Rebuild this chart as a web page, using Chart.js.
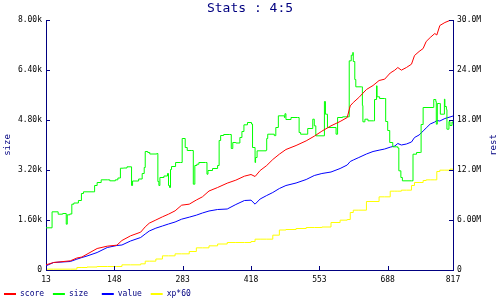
<!DOCTYPE html>
<html>
<head>
<meta charset="utf-8">
<title>Stats : 4:5</title>
<script src="https://cdn.jsdelivr.net/npm/chart.js@4.4.1/dist/chart.umd.min.js"></script>
<style>
  html, body { margin: 0; padding: 0; background: #fff; }
  #statsChart { display: block; }
</style>
</head>
<body>
<canvas id="statsChart" width="500" height="300"></canvas>
<script>
// x axis labels
const xTicks = [13, 148, 283, 418, 553, 688, 817];

// size (left axis)
const sizeX = [13, 25, 37, 46, 53, 55, 60, 64, 68, 77, 83, 87, 106, 109, 114, 122, 135, 139, 150, 155,
  160, 166, 173, 182, 184, 196, 203, 207, 209, 214, 218, 232, 234, 236, 238, 246, 253, 255, 257, 259,
  261, 269, 279, 282, 288, 292, 301, 304, 307, 311, 315, 328, 331, 333, 342, 352, 355, 358, 364, 375,
  379, 382, 388, 396, 400, 404, 411, 419, 421, 426, 427, 430, 448, 449, 451, 464, 467, 472, 484, 485,
  487, 497, 510, 513, 516, 530, 540, 543, 546, 563, 565, 569, 586, 589, 599, 612, 616, 619, 620, 623,
  625, 636, 638, 639, 643, 649, 660, 662, 666, 667, 672, 682, 684, 688, 692, 698, 708, 710, 714, 717,
  735, 738, 745, 753, 754, 758, 778, 779, 783, 784, 786, 791, 792, 799, 800, 801, 804, 805, 809, 811,
  815, 817];
const sizeValues = [1350, 1862, 1786, 1808, 1466, 1766, 1792, 2106, 2144, 2224, 2448, 2502, 2502, 2704, 2800, 2886, 2886, 2854, 2886, 2944,
  3258, 3264, 3302, 2704, 2848, 2912, 3088, 3280, 3792, 3760, 3712, 3728, 2832, 2704, 2960, 3008, 3088, 2704, 2640, 3216,
  3312, 3440, 3440, 4208, 3920, 3824, 3824, 2746, 3344, 3386, 3440, 3440, 3066, 3184, 3248, 3344, 4144, 4304, 4336, 4336,
  3888, 4080, 4064, 4240, 4432, 4646, 4720, 4672, 3920, 3440, 3600, 3814, 3834, 4208, 4346, 4300, 4560, 4934, 4880, 5000,
  4816, 4880, 4880, 4400, 4346, 4528, 4826, 4614, 4294, 5392, 4986, 4560, 4346, 4880, 4902, 6694, 6874, 6960, 6672, 6096,
  5862, 5862, 5264, 4742, 4826, 4774, 4774, 5456, 5894, 5542, 5488, 5488, 4752, 4464, 4080, 3942, 3904, 3174, 2960, 2854,
  2854, 3706, 3760, 3760, 4656, 5200, 5200, 5456, 5392, 4666, 5328, 5328, 4986, 4986, 5466, 5232, 5136, 4506, 4752, 4624,
  4736, 4688];

// score, value, xp*60 (right axis, millions)
const restX = [13, 28, 61, 74, 84, 94, 114, 134, 153, 163, 180, 200, 209, 217, 230, 243, 255, 268, 281, 296,
  310, 322, 335, 352, 371, 388, 405, 418, 426, 436, 449, 461, 474, 487, 507, 527, 543, 558, 576, 594,
  608, 614, 620, 631, 646, 659, 671, 682, 693, 702, 708, 715, 725, 735, 741, 750, 758, 764, 772, 781,
  785, 791, 801, 811, 817];
const scoreValues = [0.62, 0.90, 1.10, 1.44, 1.56, 1.90, 2.58, 2.86, 2.98, 3.54, 4.10, 4.54, 5.18, 5.62, 6.00, 6.38, 6.70, 7.10, 7.78, 7.90,
  8.40, 8.78, 9.48, 9.90, 10.42, 10.78, 11.26, 11.46, 11.22, 11.94, 12.54, 13.26, 13.90, 14.46, 14.94, 15.50, 16.06, 16.66, 17.30, 17.82,
  18.30, 19.70, 20.10, 20.70, 21.66, 22.14, 22.74, 22.90, 23.64, 23.98, 24.30, 23.98, 24.30, 24.70, 25.74, 26.22, 26.58, 27.42, 27.90, 28.38,
  28.20, 29.34, 29.70, 29.95, 29.98];
const valueValues = [0.50, 0.90, 1.02, 1.30, 1.50, 1.68, 2.10, 2.70, 2.94, 3.00, 3.48, 3.90, 4.32, 4.68, 5.02, 5.28, 5.52, 5.76, 6.10, 6.34,
  6.58, 6.84, 7.08, 7.26, 7.32, 7.86, 8.34, 8.38, 7.90, 8.52, 8.94, 9.30, 9.78, 10.14, 10.44, 10.86, 11.34, 11.58, 11.76, 12.18,
  12.60, 13.02, 13.20, 13.50, 13.92, 14.22, 14.38, 14.52, 14.74, 14.88, 15.18, 15.00, 15.12, 15.36, 15.90, 16.20, 16.68, 17.04, 17.52, 17.76,
  17.94, 17.88, 18.18, 18.36, 18.48];
const xpValues = [0.10, 0.10, 0.10, 0.30, 0.30, 0.36, 0.42, 0.42, 0.42, 0.62, 0.62, 0.74, 1.06, 1.06, 1.32, 1.70, 1.70, 1.94, 1.94, 2.22,
  2.66, 2.66, 2.90, 3.12, 3.30, 3.30, 3.30, 3.42, 3.70, 3.70, 3.70, 4.18, 4.80, 4.86, 4.98, 5.10, 5.10, 5.16, 5.70, 5.98,
  6.06, 6.90, 7.18, 7.18, 8.22, 8.22, 8.78, 8.78, 9.46, 9.46, 9.46, 9.58, 9.58, 10.14, 10.50, 10.50, 10.74, 10.82, 10.82, 10.82,
  11.82, 11.98, 11.98, 12.10, 12.12];

const navy = '#000080';
const mono = "'DejaVu Sans Mono', monospace";

function pairs(xs, ys) {
    return xs.map(function (x, i) { return { x: x, y: ys[i] }; });
}

function fmt3(v) {
    return v === 0 ? '0' : v.toPrecision(3);
}

// ticks drawn inward, like the original
const innerTicks = {
    id: 'innerTicks',
    afterDraw(chart) {
        const ctx = chart.ctx;
        const area = chart.chartArea;
        const sx = chart.scales.x, sl = chart.scales.size, sr = chart.scales.rest;
        ctx.save();
        ctx.strokeStyle = navy;
        ctx.lineWidth = 1;
        ctx.beginPath();
        sx.ticks.forEach(function (t) {
            const p = Math.round(sx.getPixelForValue(t.value)) + 0.5;
            ctx.moveTo(p, area.bottom);
            ctx.lineTo(p, area.bottom - 4);
        });
        sl.ticks.forEach(function (t) {
            const p = Math.round(sl.getPixelForValue(t.value)) + 0.5;
            ctx.moveTo(area.left, p);
            ctx.lineTo(area.left + 4, p);
        });
        sr.ticks.forEach(function (t) {
            const p = Math.round(sr.getPixelForValue(t.value)) + 0.5;
            ctx.moveTo(area.right, p);
            ctx.lineTo(area.right - 4, p);
        });
        ctx.stroke();

        // right axis title, reading bottom to top
        ctx.fillStyle = navy;
        ctx.font = '9px ' + mono;
        ctx.textAlign = 'center';
        ctx.textBaseline = 'middle';
        ctx.translate(sr.right - 6, (area.top + area.bottom) / 2);
        ctx.rotate(-Math.PI / 2);
        ctx.fillText('rest', 0, 0);
        ctx.restore();
    }
};

document.addEventListener('DOMContentLoaded', function () {
    const ctx = document.getElementById('statsChart');

    new Chart(ctx, {
        type: 'line',
        data: {
            datasets: [{
                label: 'score',
                data: pairs(restX, scoreValues),
                yAxisID: 'rest',
                stepped: false,
                borderColor: '#ff0000',
                backgroundColor: '#ff0000'
            }, {
                label: 'size',
                data: pairs(sizeX, sizeValues),
                yAxisID: 'size',
                borderColor: '#00ff00',
                backgroundColor: '#00ff00'
            }, {
                label: 'value',
                data: pairs(restX, valueValues),
                yAxisID: 'rest',
                stepped: false,
                borderColor: '#0000ff',
                backgroundColor: '#0000ff'
            }, {
                label: 'xp*60',
                data: pairs(restX, xpValues),
                yAxisID: 'rest',
                borderColor: '#ffff00',
                backgroundColor: '#ffff00'
            }]
        },
        options: {
            responsive: false,
            animation: false,
            layout: { padding: 0 },
            font: { family: mono },
            elements: {
                line: { borderWidth: 1, stepped: true, tension: 0 },
                point: { radius: 0 }
            },
            plugins: {
                title: {
                    display: true,
                    text: 'Stats : 4:5',
                    color: navy,
                    font: { family: mono, size: 13, weight: 'normal' },
                    padding: { top: 1, bottom: 3.4 }
                },
                legend: {
                    position: 'bottom',
                    align: 'start',
                    maxHeight: 14,
                    labels: {
                        color: navy,
                        font: { family: mono, size: 8 },
                        boxWidth: 12,
                        boxHeight: 2,
                        padding: 4,
                        generateLabels: function (chart) {
                            const items = Chart.defaults.plugins.legend.labels.generateLabels(chart);
                            items.forEach(function (item) {
                                item.text = item.text.padEnd(6);
                                item.fillStyle = item.strokeStyle;
                                item.lineWidth = 0;
                            });
                            return items;
                        }
                    }
                },
                tooltip: { enabled: false }
            },
            scales: {
                x: {
                    type: 'linear',
                    min: 13,
                    max: 817,
                    afterBuildTicks: function (scale) {
                        scale.ticks = xTicks.map(function (v) { return { value: v }; });
                    },
                    afterFit: function (scale) { scale.height = 16; },
                    grid: { display: false, drawTicks: false },
                    border: { display: true, color: navy, width: 1 },
                    ticks: {
                        color: '#000',
                        font: { family: mono, size: 8 },
                        padding: 5,
                        maxRotation: 0,
                        autoSkip: false
                    }
                },
                size: {
                    type: 'linear',
                    position: 'left',
                    min: 0,
                    max: 8000,
                    afterFit: function (scale) { scale.width = 46; },
                    grid: { display: false, drawTicks: false },
                    border: { display: true, color: navy, width: 1 },
                    title: {
                        display: true,
                        text: 'size',
                        color: navy,
                        font: { family: mono, size: 9 },
                        padding: { top: 2, bottom: 0 }
                    },
                    ticks: {
                        stepSize: 1600,
                        color: '#000',
                        font: { family: mono, size: 8 },
                        padding: 4,
                        callback: function (v) { return v === 0 ? '0' : fmt3(v / 1000) + 'k'; }
                    }
                },
                rest: {
                    type: 'linear',
                    position: 'right',
                    min: 0,
                    max: 30,
                    afterFit: function (scale) { scale.width = 47; },
                    grid: { display: false, drawTicks: false },
                    border: { display: true, color: navy, width: 1 },
                    ticks: {
                        stepSize: 6,
                        color: '#000',
                        font: { family: mono, size: 8 },
                        padding: 4,
                        callback: function (v) { return v === 0 ? '0' : fmt3(v) + 'M'; }
                    }
                }
            }
        },
        plugins: [innerTicks]
    });
});
</script>
</body>
</html>
